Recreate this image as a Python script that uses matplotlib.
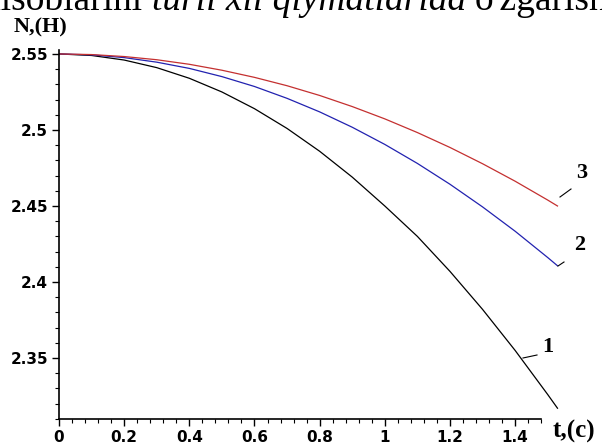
import matplotlib
matplotlib.use("Agg")
import matplotlib.pyplot as plt
from matplotlib.ticker import MultipleLocator, FixedLocator

t = [0.0, 0.1, 0.2, 0.3, 0.4, 0.5, 0.6, 0.7, 0.8, 0.9, 1.0, 1.1, 1.2, 1.3, 1.4, 1.5, 1.53]
n1 = [2.55, 2.549, 2.546, 2.541, 2.534, 2.525, 2.514, 2.501, 2.486, 2.469, 2.450, 2.430, 2.407, 2.382, 2.355, 2.326, 2.317]
n2 = [2.55, 2.5494, 2.5476, 2.5446, 2.5405, 2.5351, 2.5286, 2.5208, 2.5119, 2.5018, 2.4905, 2.478, 2.4643, 2.4494, 2.4334, 2.4161, 2.4107]
n3 = [2.55, 2.5496, 2.5483, 2.5462, 2.5432, 2.5393, 2.5346, 2.5291, 2.5227, 2.5154, 2.5073, 2.4983, 2.4885, 2.4778, 2.4663, 2.4539, 2.450]
curve_labels = ["1", "2", "3"]
xticks = [0, 0.2, 0.4, 0.6, 0.8, 1.0, 1.2, 1.4]
xticklabels = ["0", "0.2", "0.4", "0.6", "0.8", "1", "1.2", "1.4"]
yticks = [2.35, 2.4, 2.45, 2.5, 2.55]
yticklabels = ["2.35", "2.4", "2.45", "2.5", "2.55"]
header_parts = ["hisoblarini ", "turli xil qiymatlarida ", "o'zgarishi"]

W, H = 602, 444
fig = plt.figure(figsize=(W / 100, H / 100), dpi=100)

# axes placement in pixels
x0_px, x1_px = 59, 564
yb_px, yt_px = 419, 50
ax = fig.add_axes([x0_px / W, (H - yb_px) / H, (x1_px - x0_px) / W, (yb_px - yt_px) / H])
ax.set_xlim(0, 1.55)
ax.set_ylim(2.3099, 2.5526)

ax.plot(t, n1, color="black", lw=0.9)
ax.plot(t, n2, color="#2222b0", lw=0.9)
ax.plot(t, n3, color="#c43030", lw=0.9)

for s in ["top", "right"]:
    ax.spines[s].set_visible(False)
ax.spines["bottom"].set_bounds(0, 1.48)
for s in ["left", "bottom"]:
    ax.spines[s].set_linewidth(1.2)

tickfont = dict(family="DejaVu Sans", weight="bold", size=11)
ax.xaxis.set_major_locator(FixedLocator(xticks))
ax.set_xticklabels(xticklabels, fontdict=tickfont)
ax.xaxis.set_minor_locator(FixedLocator([i * 0.04 for i in range(0, 38)]))
ax.yaxis.set_major_locator(FixedLocator(yticks))
ax.set_yticklabels(yticklabels, fontdict=tickfont)
ax.yaxis.set_minor_locator(MultipleLocator(0.01))
ax.tick_params(axis="both", which="major", direction="out", length=5, width=1, pad=3)
ax.tick_params(axis="both", which="minor", direction="out", length=3, width=0.8)

# axis titles
fig.text(14 / W, 1 - 27 / H, "N,(H)", family="Liberation Serif", weight="bold", size=16, va="center", ha="left")
fig.text(553 / W, 1 - 431 / H, "t,(c)", family="Liberation Serif", weight="bold", size=18, va="center", ha="left")

# curve labels with leader lines
def px2data(px, py):
    xd = (px - x0_px) / (x1_px - x0_px) * 1.55
    yd = 2.5526 - (py - yt_px) / (yb_px - yt_px) * (2.5526 - 2.3099)
    return xd, yd

leaders = [((523, 358), (537, 355)), ((558, 266), (564, 262)), ((560, 197), (571, 189))]
label_pos = [(548, 347), (580, 245), (582, 173)]
for (p0, p1), lab, lp in zip(leaders, curve_labels, label_pos):
    a = px2data(*p0)
    b = px2data(*p1)
    ax.plot([a[0], b[0]], [a[1], b[1]], color="black", lw=0.8, clip_on=False)
    fig.text(lp[0] / W, 1 - lp[1] / H, lab, family="Liberation Serif", weight="bold",
             size=16, ha="center", va="center")

# cropped line of document text at the very top
renderer = fig.canvas.get_renderer()
xpos = -18
styles = ["normal", "italic", "normal"]
for part, st in zip(header_parts, styles):
    txt = fig.text(xpos / W, 1 - 10 / H, part, family="Liberation Serif", style=st,
                   size=27, ha="left", va="baseline")
    bb = txt.get_window_extent(renderer)
    xpos = bb.x1

fig.savefig("out.png", dpi=100)
